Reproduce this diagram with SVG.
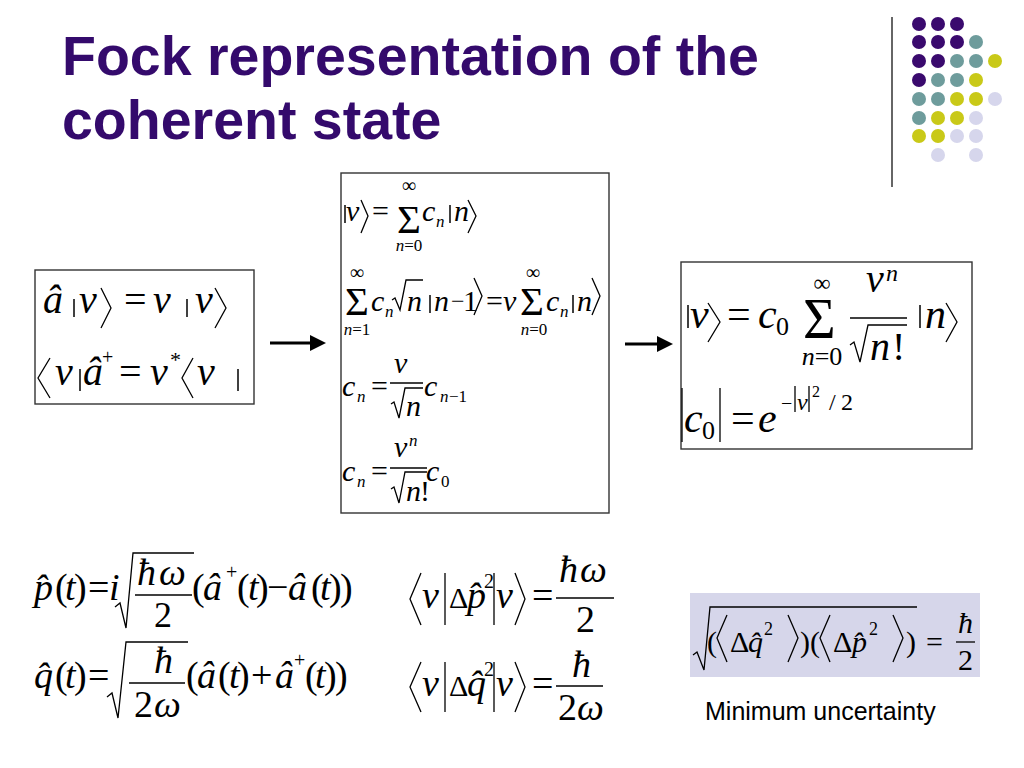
<svg xmlns="http://www.w3.org/2000/svg" width="1024" height="768" viewBox="0 0 1024 768">
<style>
.i{font-family:'Liberation Serif','Times New Roman',serif;font-style:italic;fill:#000}
.u{font-family:'Liberation Serif','Times New Roman',serif;font-style:normal;fill:#000}
.s{stroke:#000;stroke-width:1.3;fill:none}
.b{stroke:#000;stroke-width:1.5;fill:none}
.bx{fill:none;stroke:#333;stroke-width:1.4}
.ttl{font-family:'Liberation Sans',Arial,sans-serif;font-weight:bold;font-size:55.5px;fill:#340a6c}
.dp{fill:#3a0a6e}.dt{fill:#6e9c9c}.dy{fill:#c9c918}.dl{fill:#d6d6ec}
.arw{stroke:#000;stroke-width:3}
</style>
<rect width="1024" height="768" fill="#fff"/>
<g id="title">
<text class="ttl" x="62" y="75">Fock representation of the</text>
<text class="ttl" x="62" y="139">coherent state</text>
</g>
<g id="decor">
<line x1="892" y1="17" x2="892" y2="187" stroke="#333" stroke-width="1.5"/>
<circle class="dp" cx="919" cy="24" r="7"/><circle class="dp" cx="938" cy="24" r="7"/><circle class="dp" cx="957" cy="24" r="7"/>
<circle class="dp" cx="919" cy="42" r="7"/><circle class="dp" cx="938" cy="42" r="7"/><circle class="dp" cx="957" cy="42" r="7"/><circle class="dt" cx="976" cy="42" r="7"/>
<circle class="dp" cx="919" cy="61" r="7"/><circle class="dp" cx="938" cy="61" r="7"/><circle class="dt" cx="957" cy="61" r="7"/><circle class="dt" cx="976" cy="61" r="7"/><circle class="dy" cx="995" cy="61" r="7"/>
<circle class="dp" cx="919" cy="80" r="7"/><circle class="dt" cx="938" cy="80" r="7"/><circle class="dt" cx="957" cy="80" r="7"/><circle class="dy" cx="976" cy="80" r="7"/>
<circle class="dt" cx="919" cy="99" r="7"/><circle class="dt" cx="938" cy="99" r="7"/><circle class="dy" cx="957" cy="99" r="7"/><circle class="dy" cx="976" cy="99" r="7"/><circle class="dl" cx="995" cy="99" r="7"/>
<circle class="dt" cx="919" cy="118" r="7"/><circle class="dy" cx="938" cy="118" r="7"/><circle class="dy" cx="957" cy="118" r="7"/><circle class="dl" cx="976" cy="118" r="7"/>
<circle class="dy" cx="919" cy="136" r="7"/><circle class="dy" cx="938" cy="136" r="7"/><circle class="dl" cx="957" cy="136" r="7"/><circle class="dl" cx="976" cy="136" r="7"/>
<circle class="dl" cx="938" cy="155" r="7"/><circle class="dl" cx="976" cy="155" r="7"/>
</g>
<g id="box1">
<rect class="bx" x="35" y="270" width="219" height="134"/>
<text font-size="40"><tspan class="i" x="43" y="313">â</tspan><tspan class="i" x="79" y="313">v</tspan><tspan class="u" x="124" y="313">=</tspan><tspan class="i" x="153" y="313">v</tspan><tspan class="i" x="195" y="313">v</tspan></text>
<line class="b" x1="74" y1="299" x2="74" y2="317"/>
<line class="b" x1="187" y1="299" x2="187" y2="317"/>
<polyline class="s" points="101,288 111,308 101,328"/>
<polyline class="s" points="215,288 226,308 215,328"/>
<text font-size="40"><tspan class="i" x="55" y="385">v</tspan><tspan class="i" x="83" y="385">â</tspan><tspan class="u" x="102" y="364" font-size="20">+</tspan><tspan class="u" x="119" y="385">=</tspan><tspan class="i" x="150" y="385">v</tspan><tspan class="u" x="170" y="367" font-size="22">*</tspan><tspan class="i" x="197" y="385">v</tspan></text>
<line class="b" x1="80" y1="369" x2="80" y2="391"/>
<line class="b" x1="238" y1="369" x2="238" y2="391"/>
<polyline class="s" points="50,358 38,378 50,398"/>
<polyline class="s" points="193,358 182,378 193,398"/>
</g>
<g id="box2">
<rect class="bx" x="341" y="173" width="268" height="340"/>
<line class="b" x1="345" y1="205" x2="345" y2="223"/>
<line class="b" x1="450" y1="205" x2="450" y2="223"/>
<text font-size="30"><tspan class="i" x="346" y="221">v</tspan><tspan class="u" x="372" y="221">=</tspan><tspan class="i" x="422" y="221">c</tspan><tspan class="i" x="436" y="227" font-size="17">n</tspan><tspan class="i" x="454" y="221">n</tspan></text>
<text class="u" font-size="41" x="397" y="233">Σ</text>
<text class="u" font-size="20" x="409" y="192" text-anchor="middle">∞</text>
<text font-size="17" x="409" y="251" text-anchor="middle"><tspan class="i">n</tspan><tspan class="u">=0</tspan></text>
<polyline class="s" points="361,200 368,216 361,233"/>
<polyline class="s" points="468,200 476,216 468,233"/>

<text class="u" font-size="41" x="345" y="315">Σ</text>
<text class="u" font-size="20" x="357" y="279" text-anchor="middle">∞</text>
<text font-size="17" x="357" y="335" text-anchor="middle"><tspan class="i">n</tspan><tspan class="u">=1</tspan></text>
<text font-size="30"><tspan class="i" x="371" y="311">c</tspan><tspan class="i" x="385" y="317" font-size="17">n</tspan><tspan class="i" x="407" y="311">n</tspan><tspan class="i" x="434" y="311">n</tspan><tspan class="u" x="451" y="309" font-size="24">−</tspan><tspan class="u" x="463" y="311">1</tspan><tspan class="u" x="486" y="311">=</tspan><tspan class="i" x="503" y="311">v</tspan><tspan class="i" x="546" y="311">c</tspan><tspan class="i" x="560" y="317" font-size="17">n</tspan><tspan class="i" x="577" y="311">n</tspan></text>
<line class="b" x1="430" y1="295" x2="430" y2="313"/>
<line class="b" x1="573" y1="295" x2="573" y2="313"/>
<polyline class="s" points="392,300 395,298 400,310 406,280 423,280"/>
<polyline class="s" points="474,278 482,296 474,315"/>
<text class="u" font-size="41" x="520" y="315">Σ</text>
<text class="u" font-size="20" x="533" y="279" text-anchor="middle">∞</text>
<text font-size="17" x="534" y="335" text-anchor="middle"><tspan class="i">n</tspan><tspan class="u">=0</tspan></text>
<polyline class="s" points="592,278 600,296 592,315"/>

<text font-size="30"><tspan class="i" x="342" y="396">c</tspan><tspan class="i" x="357" y="402" font-size="17">n</tspan><tspan class="u" x="371" y="396">=</tspan><tspan class="i" x="424" y="396">c</tspan><tspan class="i" x="440" y="402" font-size="17">n</tspan><tspan class="u" x="449" y="402" font-size="17">−1</tspan></text>
<text class="i" font-size="30" x="394" y="373">v</text>
<line class="s" x1="390" y1="383" x2="423" y2="383"/>
<polyline class="s" points="391,404 394,402 399,418 405,388 423,388"/>
<text class="i" font-size="30" x="406" y="416">n</text>

<text font-size="30"><tspan class="i" x="342" y="481">c</tspan><tspan class="i" x="357" y="487" font-size="17">n</tspan><tspan class="u" x="371" y="481">=</tspan><tspan class="i" x="426" y="481">c</tspan><tspan class="u" x="441" y="487" font-size="17">0</tspan></text>
<text font-size="30"><tspan class="i" x="394" y="457">v</tspan><tspan class="i" x="409" y="446" font-size="17">n</tspan></text>
<line class="s" x1="390" y1="468" x2="427" y2="468"/>
<polyline class="s" points="391,489 394,487 399,503 405,472 427,472"/>
<text font-size="30" y="501"><tspan class="i" x="406">n</tspan><tspan class="u" x="420">!</tspan></text>
</g>
<g id="box3">
<rect class="bx" x="681" y="262" width="291" height="187"/>
<line class="b" x1="688" y1="305" x2="688" y2="328"/>
<line class="b" x1="920" y1="305" x2="920" y2="328"/>
<text font-size="42"><tspan class="i" x="690" y="328">v</tspan><tspan class="u" x="727" y="328">=</tspan><tspan class="i" x="758" y="328">c</tspan><tspan class="u" x="776" y="335" font-size="26">0</tspan><tspan class="i" x="925" y="328">n</tspan></text>
<polyline class="s" points="708,303 720,322 708,342"/>
<text class="u" font-size="56" x="803" y="338">Σ</text>
<text class="u" font-size="24" x="822" y="291" text-anchor="middle">∞</text>
<text font-size="26" x="822" y="365" text-anchor="middle"><tspan class="i">n</tspan><tspan class="u">=0</tspan></text>
<text font-size="40"><tspan class="i" x="866" y="292">v</tspan><tspan class="i" x="886" y="281" font-size="24">n</tspan></text>
<line class="s" x1="850" y1="318" x2="907" y2="318"/>
<polyline class="s" points="850,345 854,342 860,362 868,325 907,325"/>
<text font-size="40" y="360"><tspan class="i" x="870">n</tspan><tspan class="u" x="892">!</tspan></text>
<polyline class="s" points="946,303 957,322 946,342"/>

<line class="s" x1="682" y1="388" x2="682" y2="442"/>
<line class="s" x1="720" y1="388" x2="720" y2="442"/>
<text font-size="42"><tspan class="i" x="684" y="432">c</tspan><tspan class="u" x="702" y="439" font-size="26">0</tspan><tspan class="u" x="731" y="432">=</tspan><tspan class="i" x="758" y="432">e</tspan><tspan class="u" x="781" y="410" font-size="20">−</tspan><tspan class="i" x="797" y="410" font-size="24">v</tspan><tspan class="u" x="812" y="397" font-size="16">2</tspan><tspan class="u" x="829" y="410" font-size="24">/</tspan><tspan class="u" x="841" y="410" font-size="24">2</tspan></text>
<line class="s" x1="795" y1="386" x2="795" y2="412"/>
<line class="s" x1="809" y1="386" x2="809" y2="412"/>
</g>
<g id="connectors">
<line class="arw" x1="270" y1="343" x2="312" y2="343"/>
<polygon points="310,335 326,343 310,351" fill="#000"/>
<line class="arw" x1="625" y1="344" x2="659" y2="344"/>
<polygon points="657,336 673,344 657,352" fill="#000"/>
</g>
<g id="eqs">
<text font-size="38"><tspan class="i" x="34" y="600">p̂</tspan><tspan class="u" x="55" y="600">(</tspan><tspan class="i" x="65" y="600">t</tspan><tspan class="u" x="74" y="600">)</tspan><tspan class="u" x="88" y="600">=</tspan><tspan class="i" x="109" y="600">i</tspan><tspan class="u" x="192" y="600">(</tspan><tspan class="i" x="203" y="600">â</tspan><tspan class="u" x="226" y="579" font-size="20">+</tspan><tspan class="u" x="237" y="600">(</tspan><tspan class="i" x="248" y="600">t</tspan><tspan class="u" x="256" y="600">)</tspan><tspan class="u" x="267" y="600">−</tspan><tspan class="i" x="288" y="600">â</tspan><tspan class="u" x="311" y="600">(</tspan><tspan class="i" x="320" y="600">t</tspan><tspan class="u" x="329" y="600">)</tspan><tspan class="u" x="340" y="600">)</tspan></text>
<polyline class="s" points="115,607 120,603 126,628 133,553 194,553"/>
<text font-size="38"><tspan class="i" x="137" y="585">ħ</tspan><tspan class="i" x="159" y="585">ω</tspan></text>
<line class="s" x1="135" y1="595" x2="192" y2="595"/>
<text class="u" font-size="36" x="154" y="627">2</text>

<text font-size="38"><tspan class="i" x="34" y="688">q̂</tspan><tspan class="u" x="55" y="688">(</tspan><tspan class="i" x="65" y="688">t</tspan><tspan class="u" x="74" y="688">)</tspan><tspan class="u" x="88" y="688">=</tspan><tspan class="u" x="186" y="688">(</tspan><tspan class="i" x="197" y="688">â</tspan><tspan class="u" x="218" y="688">(</tspan><tspan class="i" x="229" y="688">t</tspan><tspan class="u" x="237" y="688">)</tspan><tspan class="u" x="251" y="688">+</tspan><tspan class="i" x="275" y="688">â</tspan><tspan class="u" x="294" y="667" font-size="20">+</tspan><tspan class="u" x="305" y="688">(</tspan><tspan class="i" x="315" y="688">t</tspan><tspan class="u" x="324" y="688">)</tspan><tspan class="u" x="335" y="688">)</tspan></text>
<polyline class="s" points="107,697 112,693 118,718 126,642 188,642"/>
<text class="i" font-size="38" x="154" y="673">ħ</text>
<line class="s" x1="129" y1="683" x2="185" y2="683"/>
<text font-size="38"><tspan class="u" x="134" y="717">2</tspan><tspan class="i" x="154" y="717">ω</tspan></text>

<polyline class="s" points="421,573 410,599 421,625"/>
<text font-size="38"><tspan class="i" x="422" y="608">v</tspan><tspan class="u" x="449" y="608" font-size="30">Δ</tspan><tspan class="i" x="467" y="608">p̂</tspan><tspan class="u" x="484" y="588" font-size="20">2</tspan><tspan class="i" x="496" y="608">v</tspan><tspan class="u" x="532" y="608">=</tspan></text>
<line class="s" x1="445" y1="573" x2="445" y2="625"/>
<line class="s" x1="494" y1="573" x2="494" y2="625"/>
<polyline class="s" points="515,573 525,599 515,625"/>
<text font-size="38"><tspan class="i" x="559" y="582">ħ</tspan><tspan class="i" x="580" y="582">ω</tspan></text>
<line class="s" x1="556" y1="598" x2="614" y2="598"/>
<text class="u" font-size="38" x="576" y="632">2</text>

<polyline class="s" points="421,662 410,687 421,712"/>
<text font-size="38"><tspan class="i" x="422" y="696">v</tspan><tspan class="u" x="449" y="696" font-size="30">Δ</tspan><tspan class="i" x="467" y="696">q̂</tspan><tspan class="u" x="484" y="676" font-size="20">2</tspan><tspan class="i" x="496" y="696">v</tspan><tspan class="u" x="532" y="696">=</tspan></text>
<line class="s" x1="445" y1="662" x2="445" y2="712"/>
<line class="s" x1="494" y1="662" x2="494" y2="712"/>
<polyline class="s" points="515,662 525,687 515,712"/>
<text class="i" font-size="38" x="572" y="677">ħ</text>
<line class="s" x1="556" y1="686" x2="603" y2="686"/>
<text font-size="38"><tspan class="u" x="558" y="720">2</tspan><tspan class="i" x="577" y="720">ω</tspan></text>
</g>
<g id="box4">
<rect x="690" y="593" width="290" height="84" fill="#d6d6ea"/>
<polyline class="s" points="693,655 697,652 704,670 710,607 917,607"/>
<text font-size="30"><tspan class="u" x="707" y="652">(</tspan><tspan class="u" x="730" y="652">Δ</tspan><tspan class="i" x="748" y="652">q̂</tspan><tspan class="u" x="764" y="635" font-size="18">2</tspan><tspan class="u" x="800" y="652">)</tspan><tspan class="u" x="810" y="652">(</tspan><tspan class="u" x="833" y="652">Δ</tspan><tspan class="i" x="852" y="652">p̂</tspan><tspan class="u" x="869" y="635" font-size="18">2</tspan><tspan class="u" x="906" y="652">)</tspan><tspan class="u" x="926" y="652">=</tspan></text>
<polyline class="s" points="727,615 717,638 727,662"/>
<polyline class="s" points="788,615 798,638 788,662"/>
<polyline class="s" points="830,615 820,638 830,662"/>
<polyline class="s" points="893,615 903,638 893,662"/>
<text class="i" font-size="30" x="958" y="633">ħ</text>
<line class="s" x1="956" y1="642" x2="975" y2="642"/>
<text class="u" font-size="30" x="958" y="670">2</text>
</g>
<g id="note">
<text x="705" y="720" font-family="'Liberation Sans',Arial,sans-serif" font-size="25" fill="#000">Minimum uncertainty</text>
</g>
</svg>
